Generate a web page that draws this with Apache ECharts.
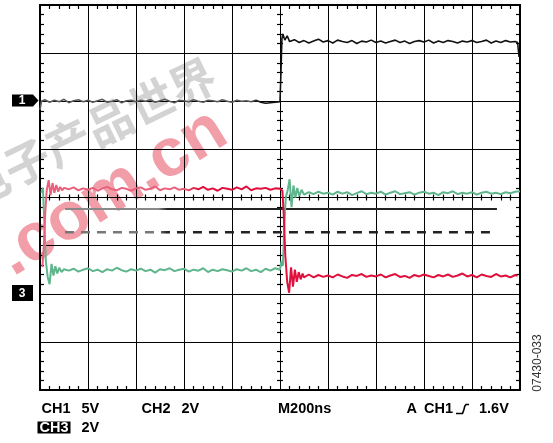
<!DOCTYPE html>
<html><head><meta charset="utf-8">
<script src="https://cdn.jsdelivr.net/npm/echarts@6/dist/echarts.min.js"></script>
<style>html,body{margin:0;padding:0;background:#fff}#c{width:553px;height:443px}</style>
</head><body><div id="c"></div><script>
// time axis in divisions (200 ns/div), vertical in divisions (centre = 0)
const ch1Time = [0,0.03,0.1,0.2,0.3,0.4,0.5,0.6,0.7,0.8,0.9,
 1.0,1.1,1.2,1.3,1.4,1.5,1.6,1.7,1.8,1.9,
 2.0,2.1,2.2,2.3,2.4,2.5,2.6,2.7,2.8,2.9,
 3.0,3.1,3.2,3.3,3.4,3.5,3.6,3.7,3.8,3.9,
 4.0,4.1,4.2,4.3,4.4,4.5,4.6,4.7,4.8,4.9,
 5.0,5.02,5.04,5.06,5.1,5.15,5.2,
 5.3,5.4,5.5,5.6,5.7,5.8,5.9,
 6.0,6.1,6.2,6.3,6.4,6.5,6.6,6.7,6.8,6.9,
 7.0,7.1,7.2,7.3,7.4,7.5,7.6,7.7,7.8,7.9,
 8.0,8.1,8.2,8.3,8.4,8.5,8.6,8.7,8.8,8.9,
 9.0,9.1,9.2,9.3,9.4,9.5,9.6,9.7,9.8,9.9,9.95,9.98];
const ch1Level = [1.82,2.0,2.03,1.98,2.02,1.99,2.04,1.97,2.01,2.03,1.99,
 2.02,1.98,2.01,2.04,1.98,2.00,2.03,1.97,2.01,2.02,
 1.99,2.02,2.00,2.03,1.98,2.01,2.04,2.00,1.97,2.02,
 2.01,1.99,2.03,2.00,1.98,2.02,2.01,1.99,2.03,2.00,
 1.98,2.02,2.00,2.01,1.99,2.02,1.98,1.96,1.97,1.98,
 1.99,2.6,3.3,3.4,3.27,3.36,3.24,
 3.28,3.22,3.26,3.21,3.25,3.29,3.23,
 3.26,3.21,3.27,3.24,3.22,3.26,3.20,3.25,3.23,3.27,
 3.22,3.25,3.21,3.24,3.27,3.22,3.25,3.20,3.24,3.26,
 3.23,3.27,3.21,3.25,3.22,3.26,3.24,3.21,3.25,3.23,
 3.26,3.22,3.24,3.27,3.21,3.25,3.22,3.26,3.23,3.24,3.22,2.92];

const ch2Time = [0.05,0.08,0.11,0.14,0.18,0.22,0.26,0.3,0.34,0.38,0.42,0.46,0.5,
 0.6,0.7,0.8,0.9,
 1.0,1.1,1.2,1.3,1.4,1.5,1.6,1.7,1.8,1.9,
 2.0,2.1,2.2,2.3,2.4,2.5,2.6,2.7,2.8,2.9,
 3.0,3.1,3.2,3.3,3.4,3.5,3.6,3.7,3.8,3.9,
 4.0,4.1,4.2,4.3,4.4,4.5,4.6,4.7,4.8,4.9,
 5.0,5.05,5.08,5.11,5.15,5.19,5.23,5.27,5.31,5.35,5.39,5.43,5.47,5.5,
 5.6,5.7,5.8,5.9,
 6.0,6.1,6.2,6.3,6.4,6.5,6.6,6.7,6.8,6.9,
 7.0,7.1,7.2,7.3,7.4,7.5,7.6,7.7,7.8,7.9,
 8.0,8.1,8.2,8.3,8.4,8.5,8.6,8.7,8.8,8.9,
 9.0,9.1,9.2,9.3,9.4,9.5,9.6,9.7,9.8,9.9,9.95];
const ch2Level = [-1.45,-1.0,-0.3,0.15,0.36,0.05,0.3,0.1,0.26,0.12,0.22,0.15,0.2,
 0.17,0.21,0.15,0.19,
 0.16,0.2,0.14,0.19,0.22,0.17,0.15,0.2,0.18,0.14,
 0.19,0.21,0.16,0.18,0.23,0.15,0.19,0.17,0.21,0.16,
 0.18,0.15,0.2,0.17,0.22,0.16,0.19,0.14,0.2,0.18,
 0.16,0.21,0.17,0.23,0.15,0.19,0.18,0.2,0.16,0.19,
 0.18,0.14,-0.4,-1.2,-1.75,-1.98,-1.45,-1.85,-1.5,-1.75,-1.55,-1.7,-1.58,-1.66,
 -1.6,-1.66,-1.61,-1.65,
 -1.62,-1.66,-1.6,-1.64,-1.67,-1.61,-1.63,-1.59,-1.65,-1.62,
 -1.64,-1.6,-1.66,-1.62,-1.59,-1.65,-1.63,-1.67,-1.61,-1.64,
 -1.6,-1.63,-1.66,-1.61,-1.64,-1.6,-1.65,-1.62,-1.58,-1.64,
 -1.61,-1.66,-1.6,-1.63,-1.65,-1.59,-1.64,-1.62,-1.66,-1.61,-1.63];

const ch3Time = [0.03,0.06,0.09,0.12,0.16,0.2,0.24,0.28,0.32,0.36,0.4,0.45,0.5,
 0.6,0.7,0.8,0.9,
 1.0,1.1,1.2,1.3,1.4,1.5,1.6,1.7,1.8,1.9,
 2.0,2.1,2.2,2.3,2.4,2.5,2.6,2.7,2.8,2.9,
 3.0,3.1,3.2,3.3,3.4,3.5,3.6,3.7,3.8,3.9,
 4.0,4.1,4.2,4.3,4.4,4.5,4.6,4.7,4.8,4.9,
 5.0,5.03,5.06,5.09,5.12,5.16,5.2,5.24,5.28,5.32,5.36,5.4,5.45,5.5,
 5.6,5.7,5.8,5.9,
 6.0,6.1,6.2,6.3,6.4,6.5,6.6,6.7,6.8,6.9,
 7.0,7.1,7.2,7.3,7.4,7.5,7.6,7.7,7.8,7.9,
 8.0,8.1,8.2,8.3,8.4,8.5,8.6,8.7,8.8,8.9,
 9.0,9.1,9.2,9.3,9.4,9.5,9.6,9.7,9.8,9.9,10.0];
const ch3Level = [0.1,0.2,-0.5,-1.3,-1.65,-1.8,-1.38,-1.62,-1.43,-1.58,-1.46,-1.55,-1.49,
 -1.52,-1.48,-1.54,-1.5,
 -1.47,-1.53,-1.5,-1.55,-1.49,-1.52,-1.46,-1.51,-1.54,-1.49,
 -1.52,-1.48,-1.53,-1.5,-1.56,-1.49,-1.51,-1.47,-1.53,-1.5,
 -1.48,-1.54,-1.5,-1.52,-1.47,-1.55,-1.5,-1.53,-1.49,-1.51,
 -1.54,-1.49,-1.52,-1.47,-1.53,-1.5,-1.55,-1.48,-1.52,-1.47,
 -1.5,-1.32,-1.42,-0.6,0.0,0.15,0.38,-0.2,0.25,0.0,0.2,0.03,0.16,0.06,
 0.11,0.07,0.12,0.08,
 0.1,0.06,0.12,0.08,0.11,0.05,0.09,0.13,0.07,0.1,
 0.08,0.12,0.06,0.1,0.13,0.07,0.09,0.11,0.06,0.1,
 0.12,0.08,0.1,0.05,0.11,0.09,0.13,0.07,0.1,0.08,
 0.11,0.06,0.1,0.12,0.08,0.1,0.07,0.11,0.09,0.12,0.13];

const refTime = [0.52, 9.52];
const solidRef = [-0.24, -0.24];
const dashedRef = [-0.72, -0.72];

const bottomLabels = ['CH1', '5V', 'CH2', '2V', 'M200ns', 'A', 'CH1', '1.6V'];
const ch3Label = ['CH3', '2V'];
const figureId = '07430-033';
const markerLabels = ['1', '3'];
const watermarkCn = '电子产品世界';
const watermarkEn = '.com.cn';

const pts = (t, v) => t.map((x, i) => [x, v[i]]);

const XMIN = 0, XMAX = 10, YMIN = -4, YMAX = 4;
function xAx(pos, offset, tickLen, lineW, split) {
  return {type:'value', min:XMIN, max:XMAX, interval:1, position:pos, offset:offset,
    axisLine:{show:true, onZero:false, lineStyle:{color:'#000', width:lineW}},
    axisTick:{show:false, inside:true},
    minorTick:{show:true, splitNumber:5, length:tickLen, lineStyle:{color:'#000', width:1.2}},
    axisLabel:{show:false},
    splitLine:{show:split, lineStyle:{color:'#000', width:1}}};
}
function yAx(pos, offset, tickLen, lineW, split) {
  return {type:'value', min:YMIN, max:YMAX, interval:1, position:pos, offset:offset,
    axisLine:{show:true, onZero:false, lineStyle:{color:'#000', width:lineW}},
    axisTick:{show:false, inside:true},
    minorTick:{show:true, splitNumber:5, length:tickLen, lineStyle:{color:'#000', width:1.2}},
    axisLabel:{show:false},
    splitLine:{show:split, lineStyle:{color:'#000', width:1}}};
}

const LG = echarts.graphic.LinearGradient;
const chart = echarts.init(document.getElementById('c'), null, {renderer:'canvas'});
const font = 'bold 14.5px "Liberation Sans", Arial, sans-serif';
const txt = (s, x, y, extra) => Object.assign({type:'text', x:x, y:y, z:100,
  style:{text:s, font:font, fill:'#000', textAlign:'left', textVerticalAlign:'middle'}}, extra || {});

chart.setOption({
  animation:false,
  grid:{left:40, right:33, top:5, bottom:53, show:false},
  xAxis:[xAx('bottom',0,4,2,true), xAx('top',0,4,2,false), xAx('bottom',-192.5,3,1,false), xAx('top',-192.5,3,1,false)],
  yAxis:[yAx('left',0,4,2,true), yAx('right',0,4,2,false), yAx('left',-240,3,1,false), yAx('right',-240,3,1,false)],
  series:[
    {type:'line', showSymbol:false, data:pts(refTime, solidRef), z:3,
      lineStyle:{width:2, color:new LG(0,0,1,0,[{offset:0,color:'#888'},{offset:0.22,color:'#888'},{offset:0.24,color:'#222'},{offset:1,color:'#222'}])}},
    {type:'line', showSymbol:false, data:pts(refTime, dashedRef), z:3,
      lineStyle:{width:2.5, type:[9,7], color:new LG(0,0,1,0,[{offset:0,color:'#777'},{offset:0.22,color:'#777'},{offset:0.24,color:'#222'},{offset:1,color:'#222'}])}},
    {type:'line', showSymbol:false, data:pts(ch1Time, ch1Level), z:4,
      lineStyle:{width:1.6, color:new LG(0,0,1,0,[{offset:0,color:'#5a5a5a'},{offset:0.44,color:'#5a5a5a'},{offset:0.46,color:'#111'},{offset:1,color:'#111'}])}},
    {type:'line', showSymbol:false, data:pts(ch3Time, ch3Level), z:5,
      lineStyle:{width:2, color:'#5fb58c'}},
    {type:'line', showSymbol:false, data:pts(ch2Time, ch2Level), z:6,
      lineStyle:{width:2, color:new LG(0,0,1,0,[{offset:0,color:'#e8607c'},{offset:0.3,color:'#e8607c'},{offset:0.33,color:'#e0103c'},{offset:1,color:'#e0103c'}])}}
  ],
  graphic:[
    {type:'text', x:89, y:132, rotation:26*Math.PI/180, z:-10, silent:true,
      style:{text:watermarkCn, font:'bold 46px "Noto Sans CJK SC"', fill:'rgba(150,150,150,0.42)', textAlign:'center', textVerticalAlign:'middle'}},
    {type:'text', x:112, y:193, rotation:32*Math.PI/180, z:-10, silent:true,
      style:{text:watermarkEn, font:'bold 68px "Liberation Sans", Arial', fill:'rgba(226,40,62,0.45)', textAlign:'center', textVerticalAlign:'middle'}},
    {type:'polygon', z:100, shape:{points:[[12,94.5],[33,94.5],[38.5,100.5],[33,106.5],[12,106.5]]}, style:{fill:'#000'}},
    {type:'text', x:22, y:101, z:101, style:{text:markerLabels[0], font:'bold 12px "Liberation Sans", Arial', fill:'#fff', textAlign:'center', textVerticalAlign:'middle'}},
    {type:'rect', z:100, shape:{x:12, y:285, width:21, height:16}, style:{fill:'#000'}},
    {type:'text', x:22, y:293.5, z:101, style:{text:markerLabels[1], font:'bold 12px "Liberation Sans", Arial', fill:'#fff', textAlign:'center', textVerticalAlign:'middle'}},
    txt(bottomLabels[0], 41.5, 409), txt(bottomLabels[1], 81.5, 409),
    txt(bottomLabels[2], 141.5, 409), txt(bottomLabels[3], 181.5, 409),
    txt(bottomLabels[4], 278, 409),
    txt(bottomLabels[5], 406.5, 409), txt(bottomLabels[6], 424, 409),
    {type:'polyline', z:100, shape:{points:[[456,413.5],[462.5,413.5],[463.8,410],[464.8,406],[466,404.5],[469,404.5]]}, style:{stroke:'#000', lineWidth:1.6, fill:null}},
    txt(bottomLabels[7], 479, 409),
    {type:'rect', z:100, shape:{x:37.5, y:421.5, width:33, height:12}, style:{fill:'#000'}},
    txt(ch3Label[0], 54, 427.5, {style:{text:ch3Label[0], font:font, fill:'#fff', textAlign:'center', textVerticalAlign:'middle'}}),
    txt(ch3Label[1], 81.5, 427.5),
    {type:'text', x:538, y:363, rotation:Math.PI/2, z:100,
      style:{text:figureId, font:'12px "Liberation Sans", Arial', fill:'#333', textAlign:'center', textVerticalAlign:'middle'}}
  ]
});
</script></body></html>
